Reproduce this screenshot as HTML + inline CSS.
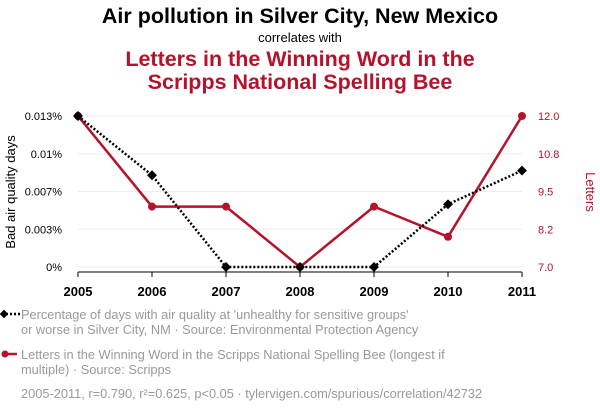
<!DOCTYPE html>
<html><head><meta charset="utf-8"><style>
body{margin:0;background:#fff;font-family:"Liberation Sans",sans-serif;}
svg text{font-family:"Liberation Sans",sans-serif;}
</style></head><body>
<svg width="600" height="414" xmlns="http://www.w3.org/2000/svg">
<text x="300" y="23" text-anchor="middle" font-size="21.5" font-weight="bold" fill="#000">Air pollution in Silver City, New Mexico</text>
<text x="300" y="42" text-anchor="middle" font-size="13" fill="#000">correlates with</text>
<text x="300" y="66" text-anchor="middle" font-size="21.5" font-weight="bold" fill="#b5122b">Letters in the Winning Word in the</text>
<text x="300" y="89" text-anchor="middle" font-size="21.5" font-weight="bold" fill="#b5122b">Scripps National Spelling Bee</text>
<g id="grid"></g>
<g id="axes"></g>
<g id="marks"></g>
<text transform="translate(15,192) rotate(-90)" text-anchor="middle" font-size="13" fill="#000">Bad air quality days</text>
<text transform="translate(586,192) rotate(90)" text-anchor="middle" font-size="13" fill="#b5122b">Letters</text>
<g>
<line x1="2" y1="314" x2="20" y2="314" stroke="#000" stroke-width="2.5" stroke-dasharray="2,2"/>
<rect x="1" y="311" width="6" height="6" transform="rotate(45 4 314)" fill="#000"/>
<text x="21" y="319" font-size="12.8" fill="#999">Percentage of days with air quality at 'unhealthy for sensitive groups'</text>
<text x="21" y="334" font-size="12.8" fill="#999">or worse in Silver City, NM · Source: Environmental Protection Agency</text>
</g>
<g>
<line x1="2" y1="354" x2="17" y2="354" stroke="#b5122b" stroke-width="2.5"/>
<circle cx="5" cy="354" r="3.5" fill="#b5122b"/>
<text x="21" y="359" font-size="12.8" fill="#999">Letters in the Winning Word in the Scripps National Spelling Bee (longest if</text>
<text x="21" y="374" font-size="12.8" fill="#999">multiple) · Source: Scripps</text>
</g>
<text x="21" y="398" font-size="12.8" fill="#999">2005-2011, r=0.790, r²=0.625, p&lt;0.05 · tylervigen.com/spurious/correlation/42732</text>
</svg>
<script>
const years=[2005,2006,2007,2008,2009,2010,2011];
const airValues=[0.013,0.0079,0,0,0,0.0054,0.0083];
const letterValues=[12,9,9,7,9,8,12];
const leftTicks=["0%","0.003%","0.007%","0.01%","0.013%"];
const rightTicks=["7.0","8.2","9.5","10.8","12.0"];
const NS="http://www.w3.org/2000/svg";
const x0=78,x1=522,yTop=116,yBot=267;
const xs=y=>x0+(y-years[0])/(years[years.length-1]-years[0])*(x1-x0);
const yl=v=>yBot-v/0.013*(yBot-yTop);
const yr=v=>yBot-(v-7)/5*(yBot-yTop);
function mk(t,a,p){const e=document.createElementNS(NS,t);for(const k in a)e.setAttribute(k,a[k]);p.appendChild(e);return e;}
const grid=document.getElementById('grid'),axes=document.getElementById('axes'),marks=document.getElementById('marks');
leftTicks.forEach((t,i)=>{const y=yBot-i*(yBot-yTop)/4;
const g=mk('line',{x1:x0,x2:x1,y1:y,y2:y,stroke:'#eee'},grid);


const l=mk('text',{x:62,y:y+4,'text-anchor':'end','font-size':11,fill:'#000'},axes);l.textContent=t;


const r=mk('text',{x:538,y:y+4,'font-size':11,fill:'#b5122b'},axes);r.textContent=rightTicks[i];

});
years.forEach(yv=>{const x=xs(yv);
mk('line',{x1:x,x2:x,y1:yBot+5,y2:yBot+10,stroke:'#000'},axes);
const t=mk('text',{x:x,y:296,'text-anchor':'middle','font-size':13,'font-weight':'bold',fill:'#000'},axes);t.textContent=yv;

});
mk('line',{x1:x0,x2:x1,y1:yBot+5,y2:yBot+5,stroke:'#000'},axes);
const rp=mk('polyline',{points:years.map((y,i)=>xs(y)+','+yr(letterValues[i])).join(' '),fill:'none',stroke:'#b5122b','stroke-width':2.5},marks);


const bp=mk('polyline',{points:years.map((y,i)=>xs(y)+','+yl(airValues[i])).join(' '),fill:'none',stroke:'#000','stroke-width':2.5,'stroke-dasharray':'2,2'},marks);


years.forEach((y,i)=>{const c=mk('circle',{cx:xs(y),cy:yr(letterValues[i]),r:4,fill:'#b5122b'},marks);


const x=xs(y),yy=yl(airValues[i]);
const d=mk('rect',{x:x-3.5,y:yy-3.5,width:7,height:7,fill:'#000',transform:`rotate(45 ${x} ${yy})`},marks);

});
</script>
</body></html>
